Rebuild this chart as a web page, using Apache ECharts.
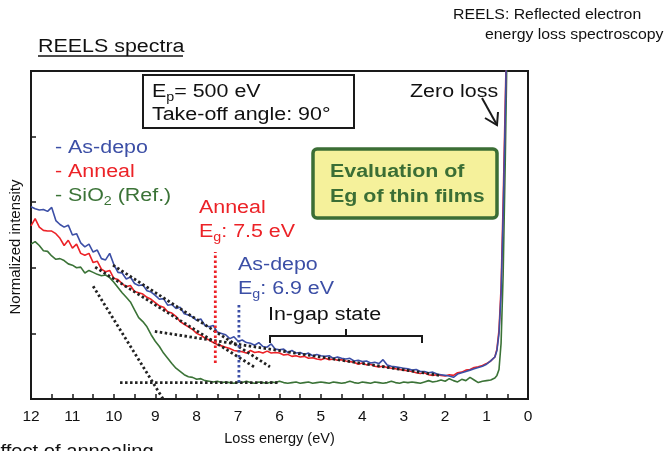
<!DOCTYPE html>
<html>
<head>
<meta charset="utf-8">
<script src="https://cdn.jsdelivr.net/npm/echarts@6/dist/echarts.min.js"></script>
<style>
html, body { margin: 0; padding: 0; background: #fff; }
#chart { width: 666px; height: 451px; }
</style>
</head>
<body>
<div id="chart"></div>
<script>
// loss energy grid (eV): 12.0 -> 0.8 step 0.1, then the zero-loss edge
const energy = []
for (let i = 0; i <= 112; i++) energy.push(+(12 - i * 0.1).toFixed(2))
const edgeEnergy = [0.75, 0.7, 0.65, 0.6, 0.55, 0.5]

const asDepo = [
  2.93, 2.90, 2.88, 2.89, 2.86, 2.92, 2.72, 2.66, 2.62, 2.65,
  2.50, 2.52, 2.38, 2.32, 2.36, 2.24, 2.27, 2.14, 2.12, 2.22,
  2.05, 1.93, 1.92, 1.83, 1.86, 1.76, 1.73, 1.74, 1.65, 1.63,
  1.58, 1.52, 1.53, 1.43, 1.44, 1.38, 1.40, 1.30, 1.28, 1.25,
  1.20, 1.22, 1.12, 1.10, 1.12, 1.02, 1.00, 0.98, 0.92, 0.95,
  0.88, 0.90, 0.86, 0.85, 0.82, 0.86, 0.80, 0.79, 0.84, 0.76,
  0.75, 0.76, 0.71, 0.74, 0.70, 0.71, 0.68, 0.70, 0.66, 0.68,
  0.66, 0.65, 0.66, 0.62, 0.64, 0.62, 0.61, 0.62, 0.58, 0.59,
  0.57, 0.58, 0.55, 0.56, 0.54, 0.60, 0.52, 0.50, 0.49, 0.48,
  0.47, 0.46, 0.44, 0.45, 0.42, 0.42, 0.40, 0.41, 0.38, 0.37,
  0.36, 0.35, 0.33, 0.38, 0.40, 0.42, 0.44, 0.46, 0.48, 0.50,
  0.53, 0.58, 0.64,
  0.74, 1.00, 1.60, 2.80, 4.30, 6.00
]
const anneal = [
  2.64, 2.75, 2.62, 2.57, 2.56, 2.56, 2.52, 2.45, 2.34, 2.42,
  2.30, 2.36, 2.22, 2.19, 2.22, 2.08, 2.10, 1.98, 1.94, 1.96,
  1.84, 1.82, 1.76, 1.71, 1.73, 1.64, 1.62, 1.60, 1.55, 1.52,
  1.47, 1.42, 1.40, 1.33, 1.31, 1.26, 1.18, 1.14, 1.10, 1.06,
  1.00, 0.97, 0.93, 0.90, 0.86, 0.83, 0.81, 0.79, 0.77, 0.74,
  0.73, 0.72, 0.70, 0.74, 0.71, 0.72, 0.70, 0.73, 0.70, 0.71,
  0.70, 0.67, 0.68, 0.65, 0.66, 0.64, 0.65, 0.62, 0.63, 0.61,
  0.60, 0.62, 0.60, 0.61, 0.59, 0.60, 0.58, 0.57, 0.56, 0.53,
  0.55, 0.52, 0.53, 0.50, 0.49, 0.50, 0.48, 0.47, 0.46, 0.45,
  0.44, 0.43, 0.42, 0.40, 0.39, 0.40, 0.37, 0.36, 0.37, 0.36,
  0.35, 0.37, 0.36, 0.40, 0.41, 0.44, 0.45, 0.48, 0.49, 0.51,
  0.54, 0.58, 0.64,
  0.76, 1.05, 1.70, 3.00, 4.50, 6.00
]
const sio2 = [
  2.36, 2.40, 2.34, 2.26, 2.25, 2.18, 2.13, 2.14, 2.11, 2.06,
  2.04, 2.00, 2.01, 1.92, 1.96, 1.93, 1.90, 1.88, 1.89, 1.85,
  1.78, 1.70, 1.62, 1.55, 1.48, 1.36, 1.24, 1.18, 1.10, 0.98,
  0.88, 0.80, 0.70, 0.62, 0.54, 0.47, 0.42, 0.37, 0.34, 0.33,
  0.30, 0.31, 0.28, 0.27, 0.26, 0.27, 0.25, 0.26, 0.25, 0.24,
  0.26, 0.25, 0.27, 0.25, 0.24, 0.26, 0.25, 0.24, 0.26, 0.25,
  0.27, 0.25, 0.24, 0.25, 0.26, 0.24, 0.25, 0.26, 0.24, 0.25,
  0.26, 0.25, 0.24, 0.26, 0.25, 0.24, 0.25, 0.27, 0.25, 0.24,
  0.26, 0.25, 0.24, 0.26, 0.25, 0.24, 0.25, 0.27, 0.25, 0.24,
  0.26, 0.25, 0.26, 0.25, 0.24, 0.26, 0.28, 0.26, 0.27, 0.29,
  0.27, 0.31, 0.28, 0.26, 0.30, 0.28, 0.33, 0.29, 0.25, 0.27,
  0.28, 0.29, 0.32,
  0.36, 0.45, 0.85, 1.90, 3.60, 5.60
]

// linear fits (eV, intensity)
const fitAsDepo = [[10.02, 2.04], [6.23, 0.49]]
const fitAnneal = [[10.45, 2.01], [6.59, 0.48]]
const fitInGap = [[9.01, 1.03], [2.13, 0.36]]
const fitSio2 = [[10.5, 1.72], [8.81, 0.0]]
const fitSio2Base = [[9.85, 0.25], [6.0, 0.25]]
const egAnneal = [[7.55, 0.55], [7.55, 2.24]]
const egAsDepo = [[6.98, 0.25], [6.98, 1.46]]

const xTicks = [12, 11, 10, 9, 8, 7, 6, 5, 4, 3, 2, 1, 0]

const allEnergy = energy.concat(edgeEnergy)
const pairs = vals => allEnergy.map((e, i) => [e, vals[i]])

const BLUE = '#3c4fa6'
const RED = '#ec2227'
const GREEN = '#3b7337'
const FONT = 'Liberation Sans, Arial, sans-serif'
const SX = 1.19 // the original lettering is a bit wider than Arial

const chart = echarts.init(document.getElementById('chart'))

const dotted = (data, color) => ({
  type: 'line', data, symbol: 'none', silent: true, z: 3,
  lineStyle: { color, width: 2.8, type: [2.5, 2.5] }
})
const curve = (data, color) => ({
  type: 'line', data: pairs(data), symbol: 'none', silent: true, clip: true, z: 2,
  lineStyle: { color, width: 1.6 }
})

const txt = (x, y, text, color, size, weight, sx) => ({
  type: 'text', x, y, z: 10, scaleX: sx || SX,
  style: { text, fill: color, font: (weight || '') + ' ' + size + 'px ' + FONT, textVerticalAlign: 'middle' }
})

const sub = (x, y, main, s, rest, color) => ({
  type: 'text', x, y, z: 10, scaleX: SX,
  style: {
    text: '{n|' + main + '}{s|' + s + '}{n|' + rest + '}',
    textVerticalAlign: 'middle',
    rich: {
      n: { fontSize: 18, fontFamily: FONT, fill: color, color: color },
      s: { fontSize: 12, fontFamily: FONT, fill: color, color: color, padding: [11, 0, 0, 0] }
    }
  }
})

chart.setOption({
  animation: false,
  grid: { left: 31, right: 138, top: 71, bottom: 46, show: true, borderColor: '#1a1a1a', borderWidth: 2 },
  xAxis: {
    type: 'value', inverse: true, min: 0, max: 12, interval: 1,
    axisLine: { onZero: false, lineStyle: { color: '#1a1a1a', width: 2 } },
    axisTick: { inside: true, length: 5, lineStyle: { color: '#1a1a1a', width: 1.5 } },
    minorTick: { show: true, splitNumber: 2, length: 5, lineStyle: { color: '#1a1a1a', width: 1.5 } },
    splitLine: { show: false },
    axisLabel: {
      color: '#111', fontSize: 15.5, fontFamily: FONT, margin: 10,
      formatter: v => xTicks.indexOf(v) >= 0 ? String(v) : ''
    },
    name: 'Loss energy (eV)', nameLocation: 'middle', nameGap: 32,
    nameTextStyle: { color: '#111', fontSize: 14.5, fontFamily: FONT }
  },
  yAxis: {
    type: 'value', min: 0, max: 5, interval: 1, position: 'left',
    axisLine: { show: true, onZero: false, lineStyle: { color: '#1a1a1a', width: 2 } },
    axisTick: { show: true, inside: true, length: 5, lineStyle: { color: '#1a1a1a', width: 1.5 } },
    axisLabel: { show: false },
    splitLine: { show: false }
  },
  series: [
    curve(sio2, GREEN),
    curve(anneal, RED),
    curve(asDepo, BLUE),
    dotted(fitAsDepo, '#222'),
    dotted(fitAnneal, '#222'),
    dotted(fitInGap, '#222'),
    dotted(fitSio2, '#222'),
    dotted(fitSio2Base, '#222'),
    dotted(egAnneal, RED),
    dotted(egAsDepo, BLUE)
  ],
  graphic: [
    { type: 'text', x: 16, y: 247, rotation: Math.PI / 2, z: 10,
      style: { text: 'Normalized intensity', fill: '#111', font: '15px ' + FONT, textAlign: 'center', textVerticalAlign: 'middle' } },
    txt(453, 15, 'REELS: Reflected electron', '#111', 14, '', 1.13),
    txt(485, 35, 'energy loss spectroscopy', '#111', 14, '', 1.13),
    txt(38, 47, 'REELS spectra', '#111', 18),
    { type: 'line', shape: { x1: 38, y1: 56, x2: 183, y2: 56 }, style: { stroke: '#111', lineWidth: 1.3 } },
    { type: 'rect', shape: { x: 143, y: 75, width: 211, height: 53 }, style: { fill: '#fff', stroke: '#1a1a1a', lineWidth: 2 }, z: 9 },
    sub(152, 92, 'E', 'p', '= 500 eV', '#111'),
    txt(152, 115, 'Take-off angle: 90°', '#111', 18),
    txt(55, 148, '- As-depo', BLUE, 18),
    txt(55, 172, '- Anneal', RED, 18),
    sub(55, 196, '- SiO', '2', ' (Ref.)', GREEN),
    txt(199, 208, 'Anneal', RED, 18),
    sub(199, 232, 'E', 'g', ': 7.5 eV', RED),
    txt(238, 265, 'As-depo', BLUE, 18),
    sub(238, 289, 'E', 'g', ': 6.9 eV', BLUE),
    txt(268, 315, 'In-gap state', '#111', 18),
    { type: 'polyline', shape: { points: [[270, 343], [270, 336], [422, 336], [422, 343]] }, style: { fill: null, stroke: '#1a1a1a', lineWidth: 2 }, z: 9 },
    { type: 'line', shape: { x1: 346, y1: 336, x2: 346, y2: 329 }, style: { stroke: '#1a1a1a', lineWidth: 2 }, z: 9 },
    txt(410, 92, 'Zero loss', '#111', 18),
    { type: 'line', shape: { x1: 482, y1: 98, x2: 497, y2: 125 }, style: { stroke: '#1a1a1a', lineWidth: 2 }, z: 9 },
    { type: 'polyline', shape: { points: [[485, 118], [497, 125], [498, 112]] }, style: { fill: null, stroke: '#1a1a1a', lineWidth: 2 }, z: 9 },
    { type: 'rect', shape: { x: 313, y: 149, width: 184, height: 69, r: 4 }, style: { fill: '#f5f19b', stroke: '#3b6e35', lineWidth: 3.5 }, z: 9 },
    txt(330, 172, 'Evaluation of', '#3b6e35', 18, 'bold'),
    txt(330, 197, 'Eg of thin films', '#3b6e35', 18, 'bold'),
    { type: 'text', x: -13, y: 443, z: 10, scaleX: 1.12,
      style: { text: 'Effect of annealing', fill: '#111', font: '18px ' + FONT, textVerticalAlign: 'top' } }
  ]
})
</script>
</body>
</html>
